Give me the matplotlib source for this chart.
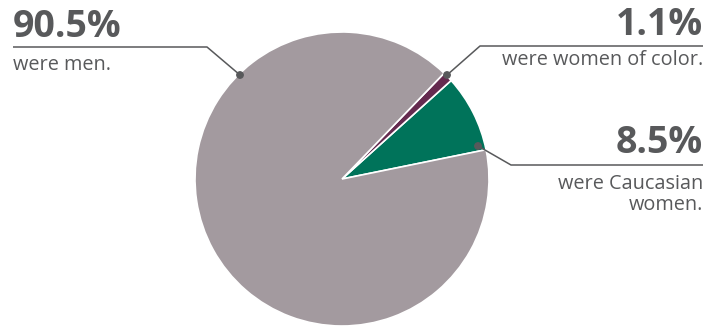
import matplotlib.pyplot as plt
from matplotlib.patches import Circle

plt.rcParams['font.family'] = ['Open Sans', 'DejaVu Sans']

labels = ["were Caucasian\nwomen.", "were women of color.", "were men."]
values = [8.5, 1.1, 90.5]
pct_labels = ["8.5%", "1.1%", "90.5%"]
colors = ["#00735A", "#652A4F", "#A39A9F"]
text_color = "#58595B"

fig = plt.figure(figsize=(7.22, 3.26), dpi=100)
ax = fig.add_axes([0, 0, 1, 1])

cx, cy, r = 342, 147, 147
ax.pie(values, colors=colors, startangle=11.5, counterclock=True,
       center=(cx, cy), radius=r,
       wedgeprops=dict(edgecolor='white', linewidth=1.2))
ax.set_xlim(0, 722)
ax.set_ylim(0, 326)
ax.set_aspect('equal')
ax.axis('off')

# leader lines: (dot, elbow, end)
leaders = [
    [(478, 180), (511, 161), (703, 161)],
    [(447, 251), (480, 280), (703, 280)],
    [(240, 251), (207, 279), (13, 279)],
]
for pts in leaders:
    xs = [p[0] for p in pts]
    ys = [p[1] for p in pts]
    ax.plot(xs, ys, color=text_color, lw=1.1, solid_capstyle='butt')
    ax.add_patch(Circle(pts[0], 3.2, color=text_color, zorder=5))

big = 27
small = 14.3
# big numbers and labels
ax.text(703, 173, pct_labels[0], ha='right', va='baseline', fontsize=big,
        fontweight='bold', color=text_color)
ax.text(703, 116, labels[0], ha='right', va='baseline', fontsize=small,
        color=text_color, linespacing=1.05)
ax.text(703, 291, pct_labels[1], ha='right', va='baseline', fontsize=big,
        fontweight='bold', color=text_color)
ax.text(703, 261, labels[1], ha='right', va='baseline', fontsize=small,
        color=text_color)
ax.text(13, 289, pct_labels[2], ha='left', va='baseline', fontsize=big,
        fontweight='bold', color=text_color)
ax.text(13, 256, labels[2], ha='left', va='baseline', fontsize=small,
        color=text_color)

fig.savefig("out.png", dpi=100)
